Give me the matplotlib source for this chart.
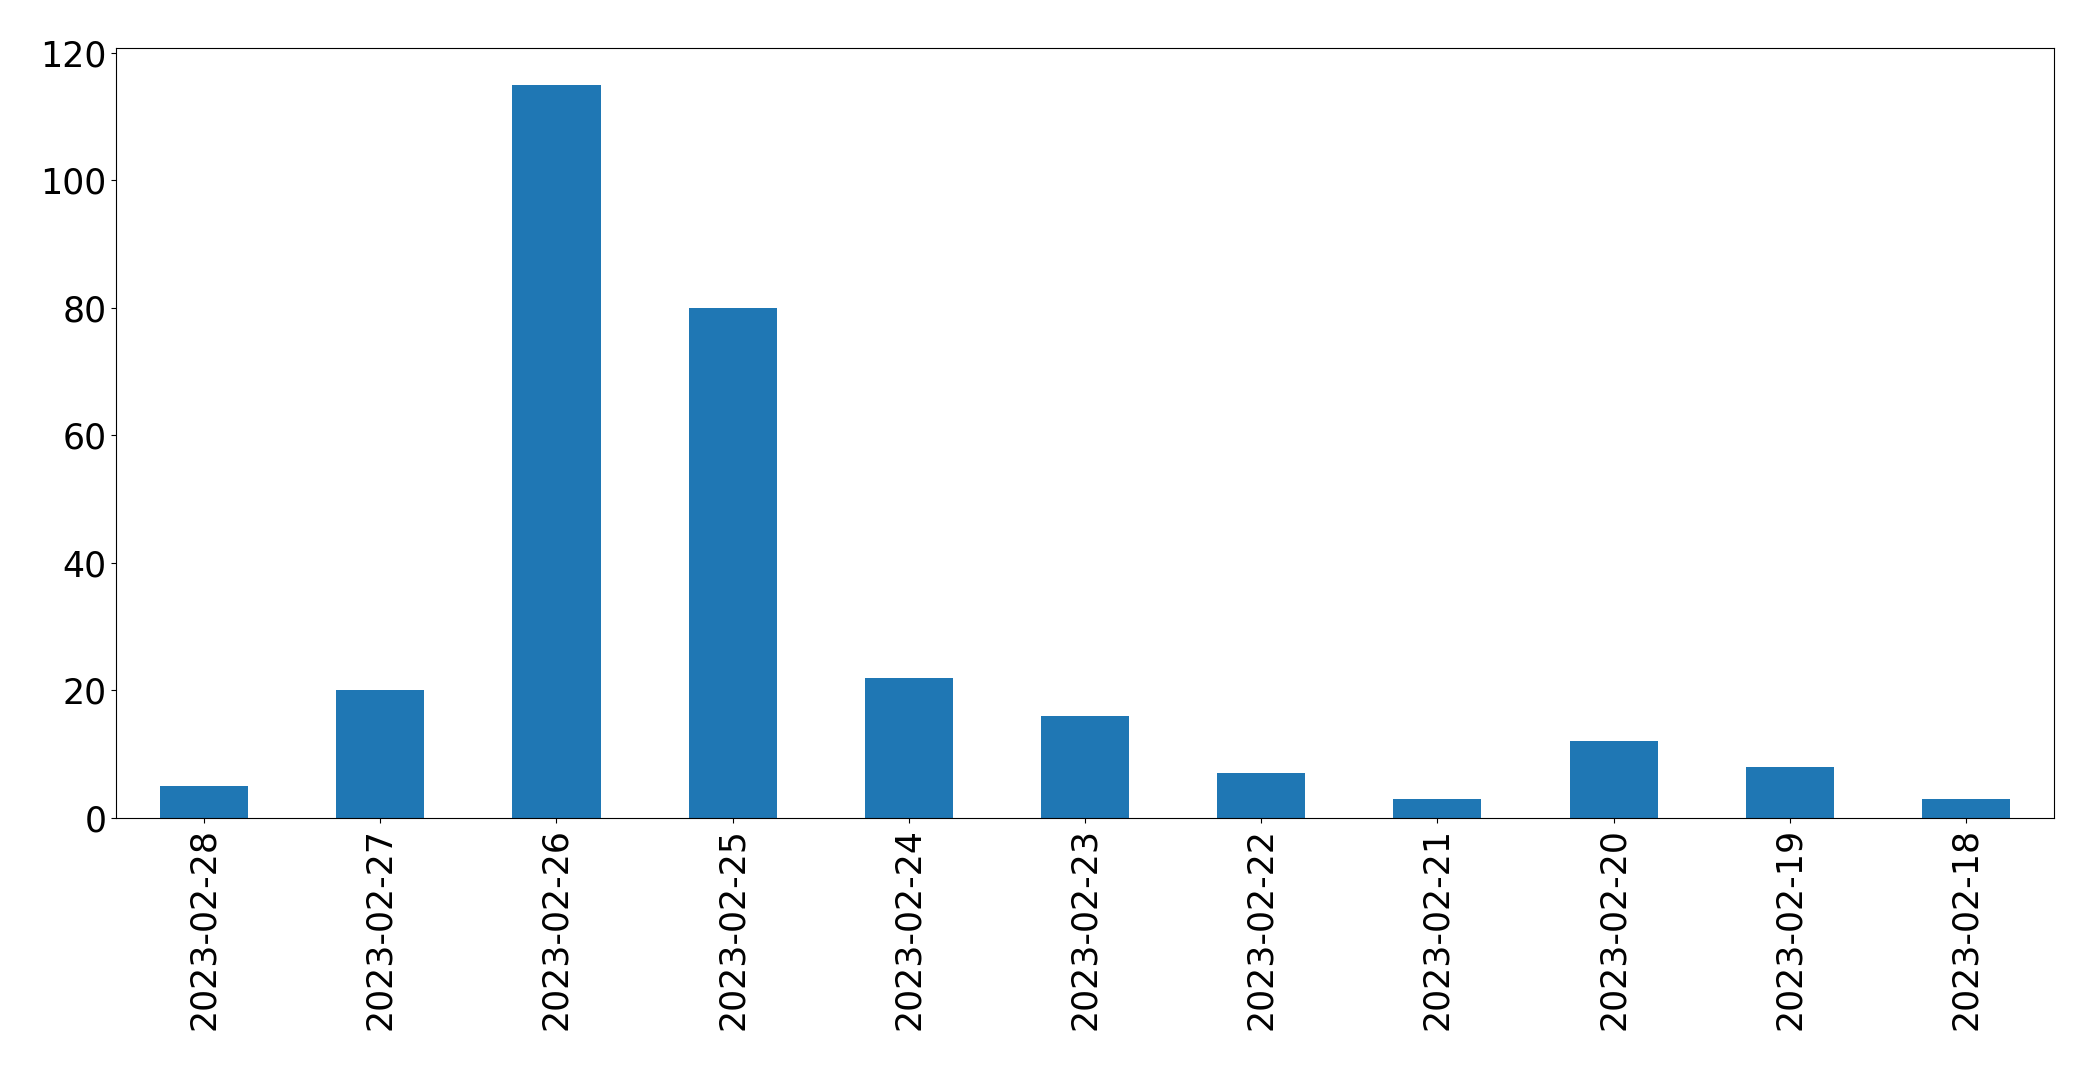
import numpy as np
import matplotlib
matplotlib.use("Agg")
import matplotlib.pyplot as plt

dates = ["2023-02-28", "2023-02-27", "2023-02-26", "2023-02-25", "2023-02-24",
         "2023-02-23", "2023-02-22", "2023-02-21", "2023-02-20", "2023-02-19",
         "2023-02-18"]
counts = [5, 20, 115, 80, 22, 16, 7, 3, 12, 8, 3]

fig = plt.figure(figsize=(20.93, 10.70), dpi=100)
ax = fig.add_axes([116 / 2093, 1 - 818 / 1070, (2054 - 116) / 2093, (818 - 48) / 1070])

x = np.arange(len(dates))
ax.bar(x, counts, width=0.5, color="#1f77b4")
ax.set_xlim(-0.5, len(dates) - 0.5)
ax.set_ylim(0, max(counts) * 1.05)
ax.set_yticks([0, 20, 40, 60, 80, 100, 120])
ax.set_xticks(x)
ax.set_xticklabels(dates, rotation=90)
ax.tick_params(axis="both", labelsize=25)

fig.savefig("out.png", dpi=100)
